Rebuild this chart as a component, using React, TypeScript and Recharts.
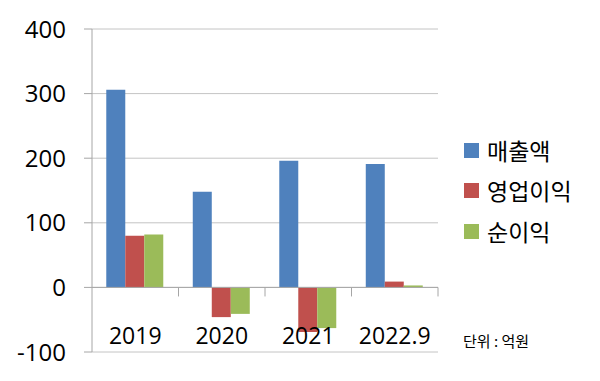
import React from "react";
import { BarChart, Bar, XAxis, YAxis, CartesianGrid, ReferenceLine } from "recharts";

const categories = ["2019", "2020", "2021", "2022.9"];
const sales = [306, 148, 196, 191];
const operatingProfit = [80, -46, -69, 9];
const netProfit = [82, -41, -63, 3];
const yTicks = [-100, 0, 100, 200, 300, 400];
const seriesNames = ["매출액", "영업이익", "순이익"];
const seriesColors = ["#4F81BD", "#C0504D", "#9BBB59"];
const unitLabel = "단위 : 억원";

const data = categories.map((c, i) => ({
  year: c,
  s0: sales[i],
  s1: operatingProfit[i],
  s2: netProfit[i],
}));

const FONT = "'Noto Sans CJK KR', 'Noto Sans', sans-serif";
const NUMFONT = "'Open Sans', 'Noto Sans', sans-serif";
const AXIS = "#a6a6a6";

const XTick = (props: any) => {
  const { x, y, payload } = props;
  return (
    <text x={x} y={y} dy={-8} textAnchor="middle" fontFamily={NUMFONT} fontSize={23} fill="#000">
      {payload.value}
    </text>
  );
};

export default function App() {
  return (
    <div style={{ position: "absolute", left: 0, top: 0, width: 600, height: 381, background: "#fff" }}>
      <BarChart
        width={600}
        height={381}
        data={data}
        margin={{ top: 29, right: 162, bottom: 0, left: 0 }}
        barCategoryGap="16.5%"
        barGap={0}
      >
        <CartesianGrid horizontal vertical={false} stroke="#c4c4c4" strokeWidth={1} />
        <XAxis
          dataKey="year"
          height={29}
          axisLine={false}
          tickLine={false}
          tickSize={0}
          tickMargin={0}
          tick={<XTick />}
          interval={0}
        />
        <YAxis
          width={92}
          domain={[-100, 400]}
          ticks={yTicks}
          interval={0}
          axisLine={{ stroke: AXIS }}
          tickLine={{ stroke: AXIS }}
          tickSize={8}
          tickMargin={18}
          tick={{ fontFamily: NUMFONT, fontSize: 24, fill: "#000" }}
        />
        <ReferenceLine y={0} stroke={AXIS} />
        {categories.map((c) => (
          <ReferenceLine
            key={"b" + c}
            segment={[{ x: c, y: 0 }, { x: c, y: -14 }]}
            position="end"
            stroke={AXIS}
            ifOverflow="visible"
          />
        ))}
        <Bar dataKey="s0" name={seriesNames[0]} fill={seriesColors[0]} isAnimationActive={false} />
        <Bar dataKey="s1" name={seriesNames[1]} fill={seriesColors[1]} isAnimationActive={false} />
        <Bar dataKey="s2" name={seriesNames[2]} fill={seriesColors[2]} isAnimationActive={false} />
      </BarChart>
      <div style={{ position: "absolute", left: 464, top: 130, fontFamily: FONT, fontSize: 23, color: "#000" }}>
        {seriesNames.map((n, i) => (
          <div key={n} style={{ display: "flex", alignItems: "center", height: 40.5 }}>
            <span style={{ display: "inline-block", width: 15, height: 15, background: seriesColors[i], marginRight: 8 }} />
            <span style={{ lineHeight: 1 }}>{n}</span>
          </div>
        ))}
      </div>
      <div
        style={{
          position: "absolute",
          left: 463,
          top: 331,
          fontFamily: FONT,
          fontSize: 15,
          color: "#000",
          whiteSpace: "pre",
          lineHeight: "20px",
        }}
      >
        {unitLabel}
      </div>
    </div>
  );
}
